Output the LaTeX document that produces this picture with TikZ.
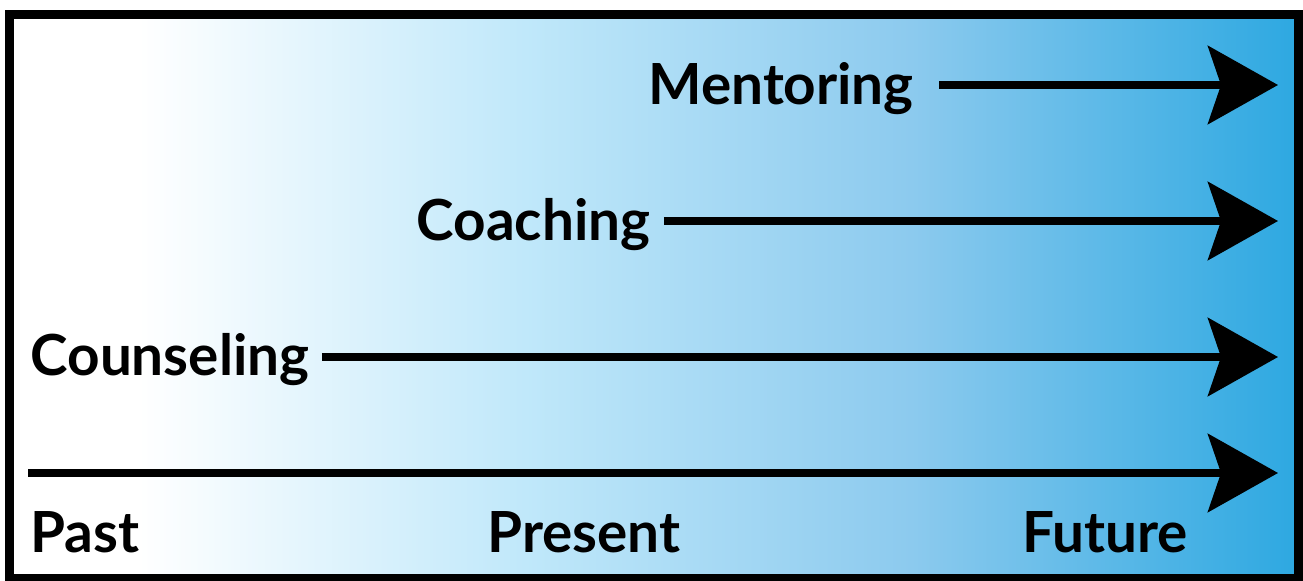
\documentclass[tikz,border=0pt]{standalone}
\usepackage{fontspec}
\setmainfont{Lato}
\usetikzlibrary{arrows.meta}

\definecolor{skywhite}{RGB}{255,255,255}
\definecolor{skylight}{RGB}{192,232,250}
\definecolor{skymid}{RGB}{140,202,238}
\definecolor{skydeep}{RGB}{45,168,225}
\pgfdeclarehorizontalshading{timeshade}{100bp}{color(0bp)=(skywhite); color(30bp)=(skywhite); color(45bp)=(skylight); color(60bp)=(skymid); color(75bp)=(skydeep); color(100bp)=(skydeep)}

\tikzset{every picture/.style={line width=0.75pt}}
\tikzset{
  phase/.style={anchor=base west,inner sep=0pt,font=\fontsize{42.5}{48}\selectfont\bfseries},
  timearrow/.style={line width=6pt,-{Stealth[length=52.5pt,width=58.5pt,inset=9.75pt]}}
}

\begin{document}
\begin{tikzpicture}[x=0.75pt,y=0.75pt,yscale=-1,xscale=1]
\useasboundingbox (0,0) rectangle (1303,581);

%Shape: Rectangle [id:frame]
\shade [shading=timeshade] (9.5,14.5) rectangle (1298,578);
\draw [line width=6.75pt] (9.5,14.5) rectangle (1298,578);

% Text Node
\node [phase] (ment) at (648,105) {Mentoring};
% Text Node
\node [phase] (coach) at (416,240) {Coaching};
% Text Node
\node [phase] (couns) at (30,375) {Counseling};
% Text Node
\node [phase] (past) at (30,552) {Past};
% Text Node
\node [phase] (pres) at (487,552) {Present};
% Text Node
\node [phase] (fut) at (1022,552) {Future};

\coordinate (mentend) at (1278,85);
\coordinate (coachend) at (1278,221);
\coordinate (counsend) at (1278,357);
\coordinate (timestart) at (28,473);
\coordinate (timeend) at (1278,473);

%Straight Lines
\draw [timearrow] ([xshift=18.75pt]ment.east |- mentend) -- (mentend);
\draw [timearrow] ([xshift=9.75pt]coach.east |- coachend) -- (coachend);
\draw [timearrow] ([xshift=9pt]couns.east |- counsend) -- (counsend);
\draw [timearrow] (timestart) -- (timeend);

\end{tikzpicture}
\end{document}
